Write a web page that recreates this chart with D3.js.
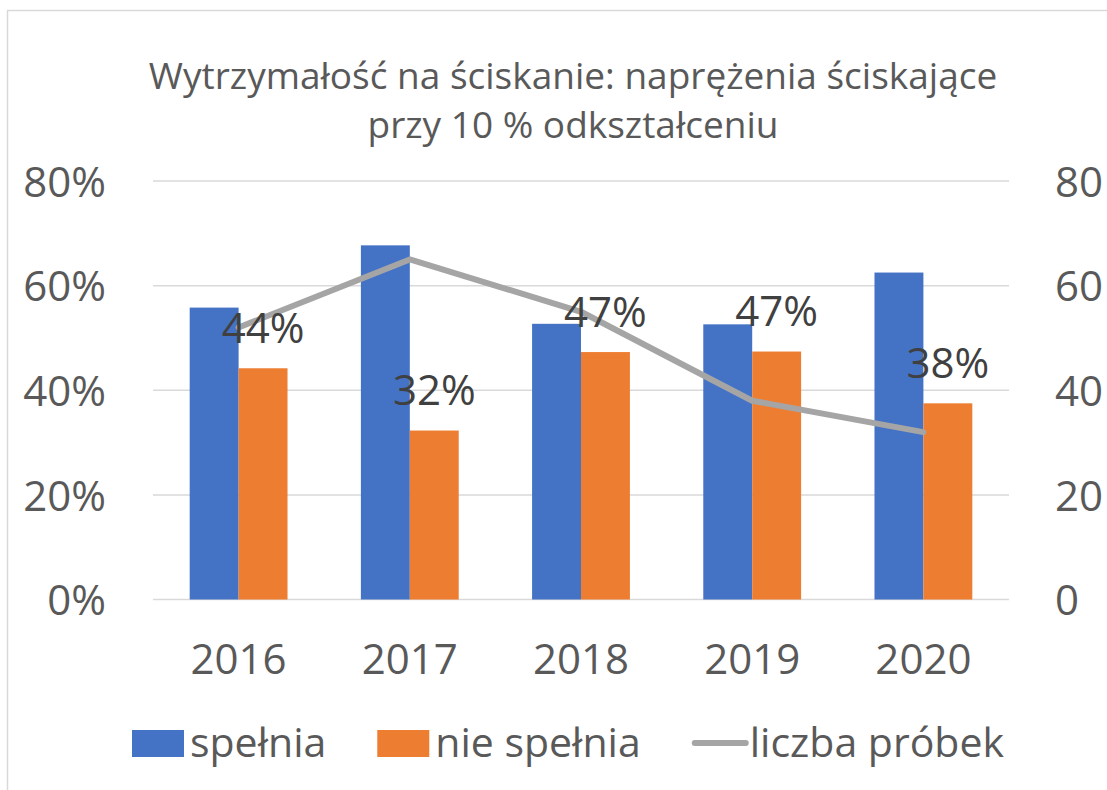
<!DOCTYPE html>
<html>
<head>
<meta charset="utf-8">
<script src="https://cdn.jsdelivr.net/npm/d3@7"></script>
<style>
	body { margin: 0; background: #fff; }
	svg { display: block; font-family: "Open Sans", "Noto Sans", sans-serif; }
</style>
</head>
<body>
<div id="chart"></div>
<script>
var years = ['2016', '2017', '2018', '2019', '2020'];
var spelnia = [55.8, 67.7, 52.7, 52.6, 62.5];
var nieSpelnia = [44.2, 32.3, 47.3, 47.4, 37.5];
var liczbaProbek = [52, 65, 55, 38, 32];
var leftTicks = [0, 20, 40, 60, 80];
var rightTicks = [0, 20, 40, 60, 80];
var titleLines = ['Wytrzymałość na ściskanie: naprężenia ściskające', 'przy 10 % odkształceniu'];
var legendNames = ['spełnia', 'nie spełnia', 'liczba próbek'];

var blue = '#4472c4';
var orange = '#ed7d31';
var gray = '#a5a5a5';
var textColor = '#595959';

var W = 1107, H = 790;
var plot = {left: 153, right: 1009, top: 181, bottom: 599.5};

var svg = d3.select('#chart').append('svg')
	.attr('width', W)
	.attr('height', H);

// chart area border
svg.append('rect')
	.attr('x', 7.5).attr('y', 10.5)
	.attr('width', W + 20).attr('height', H + 20)
	.attr('fill', 'none')
	.attr('stroke', '#d9d9d9')
	.attr('stroke-width', 1.5);

// title
svg.append('g').selectAll('text')
	.data(titleLines)
	.join('text')
	.attr('x', 573)
	.attr('y', function (d, i) { return 89 + i * 49; })
	.attr('text-anchor', 'middle')
	.attr('fill', textColor)
	.style('font-size', '37px')
	.text(function (d) { return d; });

var x = d3.scaleBand().domain(years).range([plot.left, plot.right]).padding(0);
var bw = x.bandwidth() / 3.5;
var y = d3.scaleLinear().domain([0, 80]).range([plot.bottom, plot.top]);
var y2 = d3.scaleLinear().domain([0, 80]).range([plot.bottom, plot.top]);

// gridlines
svg.append('g').selectAll('line')
	.data(leftTicks)
	.join('line')
	.attr('x1', plot.left).attr('x2', plot.right)
	.attr('y1', function (d) { return y(d); })
	.attr('y2', function (d) { return y(d); })
	.attr('stroke', '#d9d9d9')
	.attr('stroke-width', 1.5);

// left axis
var leftAxis = svg.append('g')
	.attr('transform', 'translate(' + (plot.left - 47) + ',0)')
	.call(d3.axisLeft(y).tickValues(leftTicks).tickSize(0).tickPadding(0)
		.tickFormat(function (d) { return d + '%'; }));
leftAxis.select('.domain').remove();

// right axis
var rightAxis = svg.append('g')
	.attr('transform', 'translate(' + (plot.right + 46) + ',0)')
	.call(d3.axisRight(y2).tickValues(rightTicks).tickSize(0).tickPadding(0));
rightAxis.select('.domain').remove();

// bottom axis
var bottomAxis = svg.append('g')
	.attr('transform', 'translate(0,' + plot.bottom + ')')
	.call(d3.axisBottom(x).tickSize(0).tickPadding(45));
bottomAxis.select('.domain').remove();

svg.selectAll('.tick text')
	.attr('fill', textColor)
	.style('font-size', '42px')
	.style('font-family', '"Open Sans", "Noto Sans", sans-serif');
leftAxis.selectAll('.tick text').attr('dy', '0.36em');
rightAxis.selectAll('.tick text').attr('dy', '0.36em');

// bars
var offset = (x.bandwidth() - 2 * bw) / 2;
svg.append('g').selectAll('rect')
	.data(spelnia)
	.join('rect')
	.attr('x', function (d, i) { return x(years[i]) + offset; })
	.attr('y', function (d) { return y(d); })
	.attr('width', bw)
	.attr('height', function (d) { return y(0) - y(d); })
	.attr('fill', blue);

svg.append('g').selectAll('rect')
	.data(nieSpelnia)
	.join('rect')
	.attr('x', function (d, i) { return x(years[i]) + offset + bw; })
	.attr('y', function (d) { return y(d); })
	.attr('width', bw)
	.attr('height', function (d) { return y(0) - y(d); })
	.attr('fill', orange);

// sample count line
var line = d3.line()
	.x(function (d, i) { return x(years[i]) + x.bandwidth() / 2; })
	.y(function (d) { return y2(d); });

svg.append('path')
	.datum(liczbaProbek)
	.attr('d', line)
	.attr('fill', 'none')
	.attr('stroke', gray)
	.attr('stroke-width', 6)
	.attr('stroke-linejoin', 'round')
	.attr('stroke-linecap', 'round');

// data labels on "nie spełnia"
svg.append('g').selectAll('text')
	.data(nieSpelnia)
	.join('text')
	.attr('x', function (d, i) { return x(years[i]) + offset + bw * 1.5; })
	.attr('y', function (d) { return y(d) - 25.5; })
	.attr('text-anchor', 'middle')
	.attr('fill', '#404040')
	.style('font-size', '42px')
	.text(function (d) { return Math.round(d) + '%'; });

// legend
var legend = svg.append('g').attr('transform', 'translate(132,743)');
var lx = 0;
legendNames.forEach(function (name, i) {
	var item = legend.append('g').attr('transform', 'translate(' + lx + ',0)');
	if (i < 2) {
		item.append('rect')
			.attr('x', 0).attr('y', -13)
			.attr('width', 52).attr('height', 27)
			.attr('fill', i == 0 ? blue : orange);
	} else {
		item.append('line')
			.attr('x1', 3).attr('x2', 54)
			.attr('y1', 0).attr('y2', 0)
			.attr('stroke', gray)
			.attr('stroke-width', 6)
			.attr('stroke-linecap', 'round');
	}
	var t = item.append('text')
		.attr('x', 58)
		.attr('y', 14)
		.attr('fill', textColor)
		.style('font-size', '41px')
		.text(name);
	lx += 58 + t.node().getComputedTextLength() + 51;
});
</script>
</body>
</html>
